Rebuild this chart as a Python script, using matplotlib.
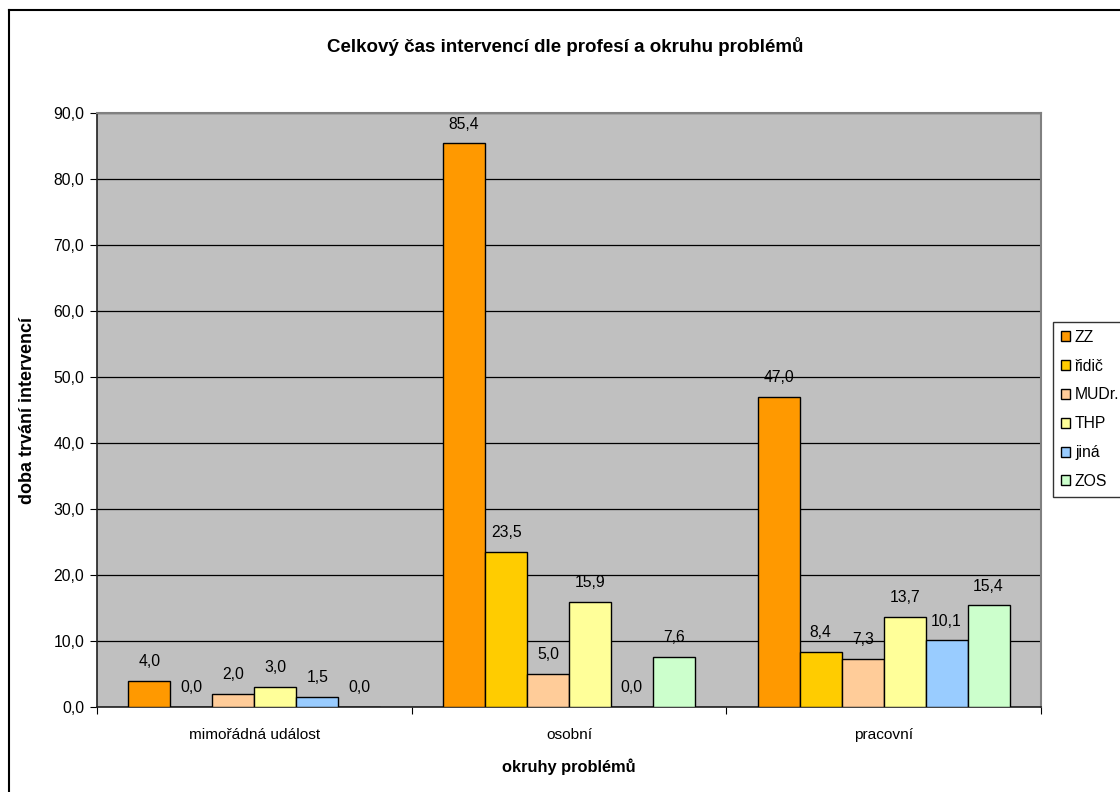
import matplotlib
matplotlib.use("Agg")
import matplotlib.pyplot as plt
from matplotlib.patches import Patch
from matplotlib.lines import Line2D
import numpy as np

plt.rcParams['font.family'] = ['Liberation Sans', 'DejaVu Sans']

categories = ["mimořádná událost", "osobní", "pracovní"]
series_names = ["ZZ", "řidič", "MUDr.", "THP", "jiná", "ZOS"]
zz = [4.0, 85.4, 47.0]
ridic = [0.0, 23.5, 8.4]
mudr = [2.0, 5.0, 7.3]
thp = [3.0, 15.9, 13.7]
jina = [1.5, 0.0, 10.1]
zos = [0.0, 7.6, 15.4]
series_values = [zz, ridic, mudr, thp, jina, zos]
colors = ["#FF9900", "#FFCC00", "#FFCC99", "#FFFF99", "#99CCFF", "#CCFFCC"]
yticks = [0, 10, 20, 30, 40, 50, 60, 70, 80, 90]

W, H = 1120, 792
fig = plt.figure(figsize=(W / 100, H / 100), dpi=100)
fig.patch.set_facecolor("white")

left, right, top, bottom = 97, 1041, 113, 707
ax = fig.add_axes([left / W, (H - bottom) / H, (right - left) / W, (bottom - top) / H])
ax.set_facecolor("#C0C0C0")

NUM_FS = 11.3
x = np.arange(len(categories))
w = 1 / 7.5
for i, (name, vals, c) in enumerate(zip(series_names, series_values, colors)):
    bars = ax.bar(x + (i - 2.5) * w, vals, width=w, color=c, edgecolor="black",
                  linewidth=1.0, zorder=3, label=name)
    ax.bar_label(bars, labels=[f"{v:.1f}".replace(".", ",") for v in vals],
                 padding=8.5, fontsize=NUM_FS, zorder=4)

ax.set_ylim(0, 90)
ax.set_xlim(-0.5, 2.5)
ax.set_yticks(yticks)
ax.set_yticklabels([f"{v:.1f}".replace(".", ",") for v in yticks], fontsize=NUM_FS)
ax.yaxis.grid(True, color="black", linewidth=0.9, zorder=1)
ax.set_axisbelow(True)

ax.set_xticks([-0.5, 0.5, 1.5, 2.5])
ax.set_xticklabels([])
ax.set_xticks(x, minor=True)
ax.set_xticklabels(categories, minor=True, fontsize=11.1)
ax.tick_params(axis="x", which="minor", length=0, pad=15)
ax.tick_params(axis="x", which="major", length=5, direction="out", color="black")
ax.tick_params(axis="y", length=5, direction="out", pad=4)

for s in ["top", "right"]:
    ax.spines[s].set_color("#808080")
    ax.spines[s].set_linewidth(1.5)
for s in ["left", "bottom"]:
    ax.spines[s].set_color("#202020")
    ax.spines[s].set_linewidth(1.2)

ax.set_ylabel("doba trvání intervencí", fontsize=13, fontweight="bold")
ax.set_xlabel("okruhy problémů", fontsize=11.8, fontweight="bold")
ax.yaxis.set_label_coords(-61 / (right - left), 0.5)
ax.xaxis.set_label_coords(0.5, -(758 - bottom) / (bottom - top))

fig.text(565 / W, 1 - 47 / H, "Celkový čas intervencí dle profesí a okruhu problémů",
         ha="center", va="center", fontsize=13.5, fontweight="bold")

handles = [Patch(facecolor=c, edgecolor="black", linewidth=1.0) for c in colors]
leg = fig.legend(handles, series_names, loc="upper left",
                 bbox_to_anchor=(1053 / W, 1 - 322 / H), fontsize=NUM_FS,
                 frameon=True, fancybox=False, edgecolor="black",
                 handlelength=0.6, handleheight=0.6, handletextpad=0.3,
                 labelspacing=0.88, borderpad=0.5, borderaxespad=0)
leg.get_frame().set_linewidth(1.0)

# outer chart border (left and top visible)
fig.add_artist(Line2D([9 / W, 9 / W], [0, 1 - 10 / H], transform=fig.transFigure,
                      color="black", linewidth=1.5))
fig.add_artist(Line2D([9 / W, 1], [1 - 10 / H, 1 - 10 / H], transform=fig.transFigure,
                      color="black", linewidth=1.5))

fig.savefig("out.png", dpi=100)
